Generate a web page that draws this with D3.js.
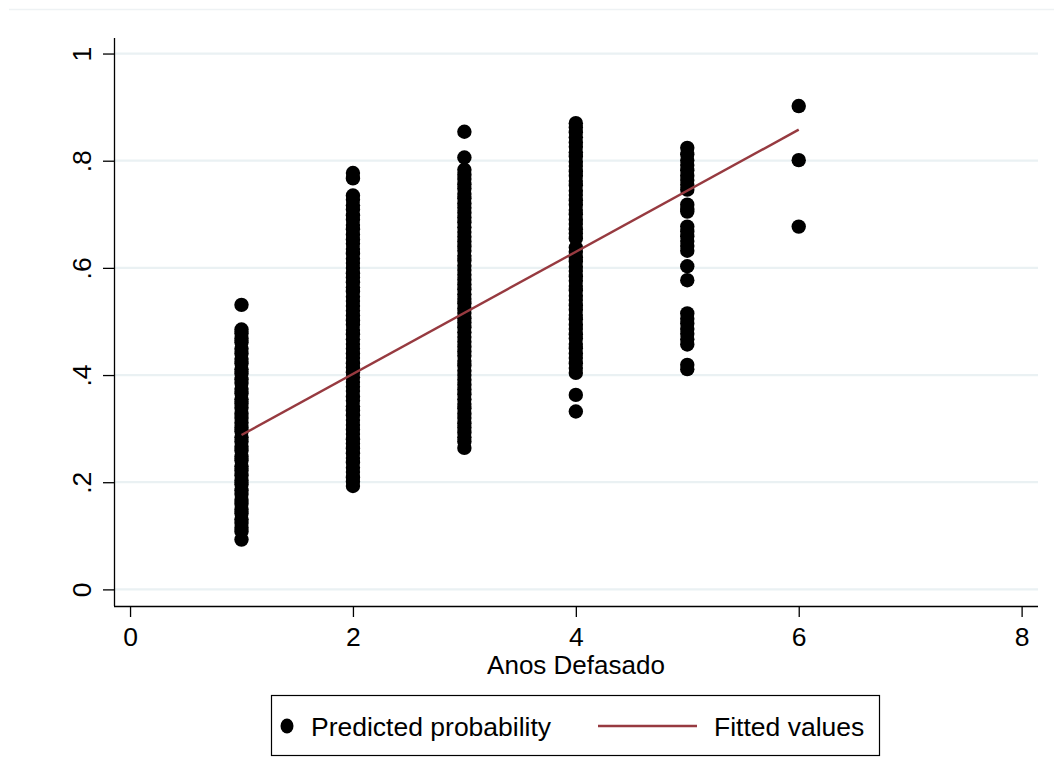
<!DOCTYPE html>
<html>
<head>
<meta charset="utf-8">
<script src="https://cdn.jsdelivr.net/npm/d3@7"></script>
<style>
  html, body { margin: 0; padding: 0; background: #fff; }
  svg { display: block; font-family: "Liberation Sans", Arial, Helvetica, sans-serif; }
</style>
</head>
<body>
<div id="chart"></div>
<script>
// values, one list per x category
const xCategories = [1, 2, 3, 4, 5, 6];
const probX1 = [0.531, 0.485, 0.478, 0.468, 0.461, 0.449, 0.44, 0.43, 0.422, 0.411, 0.403, 0.392, 0.385, 0.374, 0.366, 0.355, 0.347, 0.339, 0.328, 0.32, 0.311, 0.302, 0.295, 0.284, 0.276, 0.266, 0.259, 0.248, 0.241, 0.23, 0.222, 0.213, 0.203, 0.196, 0.185, 0.178, 0.167, 0.16, 0.149, 0.142, 0.131, 0.124, 0.115, 0.108, 0.093];
const probX2 = [0.777, 0.767, 0.735, 0.727, 0.717, 0.709, 0.698, 0.69, 0.68, 0.672, 0.662, 0.653, 0.645, 0.635, 0.627, 0.617, 0.609, 0.6, 0.59, 0.582, 0.573, 0.564, 0.556, 0.546, 0.538, 0.529, 0.52, 0.511, 0.502, 0.494, 0.484, 0.476, 0.467, 0.458, 0.449, 0.44, 0.432, 0.422, 0.414, 0.405, 0.396, 0.387, 0.378, 0.37, 0.36, 0.352, 0.342, 0.334, 0.325, 0.316, 0.307, 0.298, 0.29, 0.28, 0.272, 0.263, 0.254, 0.245, 0.237, 0.227, 0.219, 0.209, 0.201, 0.193];
const probX3 = [0.854, 0.806, 0.783, 0.774, 0.766, 0.756, 0.748, 0.738, 0.73, 0.72, 0.712, 0.703, 0.694, 0.685, 0.676, 0.667, 0.658, 0.649, 0.64, 0.632, 0.622, 0.614, 0.604, 0.596, 0.587, 0.578, 0.569, 0.56, 0.551, 0.542, 0.534, 0.524, 0.516, 0.506, 0.498, 0.489, 0.48, 0.471, 0.462, 0.453, 0.444, 0.436, 0.426, 0.418, 0.408, 0.4, 0.391, 0.382, 0.373, 0.364, 0.355, 0.346, 0.338, 0.328, 0.32, 0.31, 0.302, 0.293, 0.284, 0.276, 0.264];
const probX4 = [0.87, 0.862, 0.853, 0.844, 0.834, 0.826, 0.816, 0.808, 0.798, 0.79, 0.78, 0.772, 0.762, 0.754, 0.744, 0.736, 0.726, 0.718, 0.708, 0.7, 0.69, 0.682, 0.672, 0.664, 0.655, 0.638, 0.63, 0.62, 0.612, 0.602, 0.594, 0.584, 0.576, 0.566, 0.558, 0.548, 0.54, 0.53, 0.522, 0.512, 0.504, 0.494, 0.486, 0.476, 0.468, 0.458, 0.45, 0.44, 0.432, 0.422, 0.413, 0.404, 0.363, 0.332];
const probX5 = [0.824, 0.812, 0.801, 0.792, 0.782, 0.772, 0.764, 0.755, 0.746, 0.718, 0.71, 0.705, 0.677, 0.668, 0.659, 0.65, 0.641, 0.632, 0.603, 0.577, 0.515, 0.505, 0.496, 0.486, 0.477, 0.467, 0.457, 0.419, 0.411];
const probX6 = [0.902, 0.801, 0.677];
const probByX = [probX1, probX2, probX3, probX4, probX5, probX6];

// fitted line endpoints
const fitX = [1, 6];
const fitY = [0.288, 0.858];

const xTicks = [0, 2, 4, 6, 8];
const yTicks = [0, 0.2, 0.4, 0.6, 0.8, 1];
const yTickLabels = ['0', '.2', '.4', '.6', '.8', '1'];

const width = 1054, height = 773;
const plot = { left: 114, right: 1038, top: 38, bottom: 606 };
const maroon = '#973a40';
const gridColor = '#eaf1f3';

const svg = d3.select('#chart').append('svg')
  .attr('width', width).attr('height', height)
  .attr('viewBox', `0 0 ${width} ${height}`);

const x = d3.scaleLinear().domain([-0.144, 8.147]).range([plot.left, plot.right]);
const y = d3.scaleLinear().domain([-0.031, 1.029]).range([plot.bottom, plot.top]);

// faint outer region edge at the top
svg.append('line')
  .attr('x1', 9).attr('x2', width).attr('y1', 9.5).attr('y2', 9.5)
  .attr('stroke', '#eef2f4').attr('stroke-width', 1.5);

// gridlines
svg.append('g')
  .selectAll('line')
  .data(yTicks)
  .join('line')
  .attr('x1', plot.left).attr('x2', plot.right)
  .attr('y1', (d) => y(d)).attr('y2', (d) => y(d))
  .attr('stroke', gridColor).attr('stroke-width', 2.2);

// axes
const yAxis = svg.append('g')
  .attr('transform', `translate(${plot.left},0)`)
  .call(d3.axisLeft(y).tickValues(yTicks).tickSize(11).tickSizeOuter(0).tickFormat((d, i) => yTickLabels[i]));
yAxis.select('.domain').attr('stroke', '#000').attr('stroke-width', 1.3)
  .attr('d', `M0.5,${plot.top}V${plot.bottom}`);
yAxis.selectAll('.tick line').attr('stroke', '#000').attr('stroke-width', 1.3);
yAxis.selectAll('.tick text')
  .attr('x', null).attr('dy', null)
  .attr('transform', 'translate(-23,0) rotate(-90)')
  .attr('text-anchor', 'middle')
  .attr('font-size', 26.5)
  .attr('font-family', '"Liberation Sans", Arial, sans-serif')
  .attr('fill', '#000');

const xAxis = svg.append('g')
  .attr('transform', `translate(0,${plot.bottom})`)
  .call(d3.axisBottom(x).tickValues(xTicks).tickSize(11).tickSizeOuter(0).tickFormat(d3.format('d')));
xAxis.select('.domain').attr('stroke', '#000').attr('stroke-width', 1.3)
  .attr('d', `M${plot.left},0.5H${plot.right}`);
xAxis.selectAll('.tick line').attr('stroke', '#000').attr('stroke-width', 1.3);
xAxis.selectAll('.tick text')
  .attr('y', 40).attr('dy', null)
  .attr('font-size', 26.5)
  .attr('font-family', '"Liberation Sans", Arial, sans-serif')
  .attr('fill', '#000');

svg.append('text')
  .attr('x', (plot.left + plot.right) / 2).attr('y', 674)
  .attr('text-anchor', 'middle')
  .attr('font-size', 26)
  .text('Anos Defasado');

// scatter points
const points = xCategories.flatMap((cx, i) => probByX[i].map((p) => ({ x: cx, p })));
svg.append('g')
  .selectAll('circle')
  .data(points)
  .join('circle')
  .attr('cx', (d) => x(d.x))
  .attr('cy', (d) => y(d.p))
  .attr('r', 7.2)
  .attr('fill', '#000');

// fitted line
svg.append('path')
  .datum(fitX.map((v, i) => [v, fitY[i]]))
  .attr('d', d3.line().x((d) => x(d[0])).y((d) => y(d[1])))
  .attr('fill', 'none')
  .attr('stroke', maroon)
  .attr('stroke-width', 2.4);

// legend
const legend = svg.append('g');
legend.append('rect')
  .attr('x', 271.5).attr('y', 695.5).attr('width', 608).attr('height', 60)
  .attr('fill', '#fff').attr('stroke', '#000').attr('stroke-width', 1.2);
legend.append('ellipse')
  .attr('cx', 287).attr('cy', 726).attr('rx', 6.5).attr('ry', 7.5).attr('fill', '#000');
legend.append('text')
  .attr('x', 311).attr('y', 736).attr('font-size', 26.5)
  .text('Predicted probability');
legend.append('line')
  .attr('x1', 598).attr('x2', 697).attr('y1', 726).attr('y2', 726)
  .attr('stroke', maroon).attr('stroke-width', 2.4);
legend.append('text')
  .attr('x', 714).attr('y', 736).attr('font-size', 26.5)
  .text('Fitted values');
</script>
</body>
</html>
